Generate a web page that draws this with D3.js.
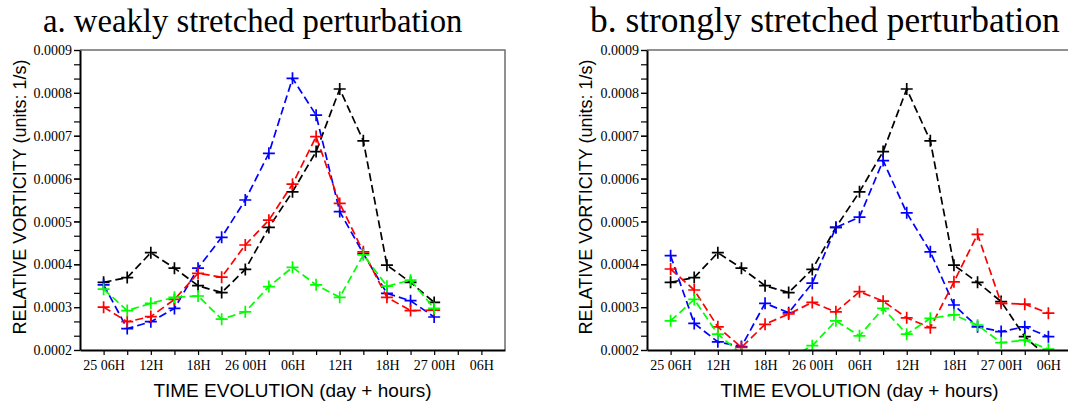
<!DOCTYPE html>
<html>
<head>
<meta charset="utf-8">
<script src="https://cdn.jsdelivr.net/npm/d3@7"></script>
<style>
  body { margin: 0; background: #fff; }
  svg text { fill: #000; }
  .serif { font-family: "Liberation Serif", "Times New Roman", serif; }
  .sans { font-family: "Liberation Sans", Arial, sans-serif; }
</style>
</head>
<body>
<div id="chart"></div>
<script>
// hours counted from 25 00H
const TIMES = [6, 9, 12, 15, 18, 21, 24, 27, 30, 33, 36, 39, 42, 45, 48, 51, 54];
const TICK_HOURS = [6, 12, 18, 24, 30, 36, 42, 48, 54];
const TICK_LABELS = ['25 06H', '12H', '18H', '26 00H', '06H', '12H', '18H', '27 00H', '06H'];
const Y_TICKS = [0.0002, 0.0003, 0.0004, 0.0005, 0.0006, 0.0007, 0.0008, 0.0009];

// a. weakly stretched (ends at 27 00H)
const weakBlack = [0.000358, 0.000369, 0.000427, 0.000391, 0.00035, 0.000334, 0.000388, 0.000486, 0.000569, 0.000663, 0.000809, 0.000688, 0.000398, 0.000358, 0.000311];
const weakBlue  = [0.000352, 0.000250, 0.000266, 0.000297, 0.000391, 0.000463, 0.00055, 0.000659, 0.000834, 0.000748, 0.000523, 0.000425, 0.000332, 0.000315, 0.000277];
const weakRed   = [0.0003, 0.000266, 0.000278, 0.000318, 0.000379, 0.00037, 0.000445, 0.000503, 0.000587, 0.000698, 0.000542, 0.000429, 0.000323, 0.000292, 0.000293];
const weakGreen = [0.000342, 0.000292, 0.000309, 0.000323, 0.000326, 0.000272, 0.000289, 0.000348, 0.000393, 0.000352, 0.000323, 0.000422, 0.000349, 0.000363, 0.000297];

// b. strongly stretched (ends at 27 06H)
const strongBlack = [0.000358, 0.000369, 0.000427, 0.000391, 0.00035, 0.000334, 0.000388, 0.000486, 0.000569, 0.000663, 0.000809, 0.000688, 0.000398, 0.000358, 0.000313, 0.000231, 0.000182];
const strongBlue  = [0.00042, 0.000262, 0.000219, 0.000208, 0.000309, 0.000287, 0.000356, 0.000486, 0.00051, 0.000642, 0.00052, 0.000429, 0.000305, 0.000254, 0.000243, 0.000254, 0.000231];
const strongRed   = [0.000389, 0.00034, 0.000254, 0.000206, 0.00026, 0.000284, 0.000311, 0.000289, 0.000336, 0.000314, 0.000275, 0.000252, 0.000359, 0.00047, 0.000309, 0.000307, 0.000286];
const strongGreen = [0.000268, 0.000318, 0.000237, 0.00019, 0.00017, 0.00018, 0.00021, 0.000268, 0.000233, 0.000297, 0.000237, 0.000274, 0.000282, 0.000258, 0.000217, 0.000223, 0.000202];

const panels = [
  { id: 'a', left: 80, title: 'a. weakly stretched perturbation', titleX: 43, titleSize: 32.7, labelX: 26,
    series: [[weakBlack, '#000'], [weakBlue, '#0000ff'], [weakRed, '#ff0000'], [weakGreen, '#00ff00']] },
  { id: 'b', left: 647, title: 'b. strongly stretched perturbation', titleX: 590, titleSize: 35.4, labelX: 592,
    series: [[strongBlack, '#000'], [strongBlue, '#0000ff'], [strongRed, '#ff0000'], [strongGreen, '#00ff00']] },
];

const W = 1068, H = 406;
const plotTop = 50, plotBottom = 350, plotW = 425;

const svg = d3.select('#chart').append('svg')
  .attr('width', W).attr('height', H);

panels.forEach((p) => {
  const x = d3.scaleLinear().domain([3, 57]).range([p.left, p.left + plotW]);
  const y = d3.scaleLinear().domain([0.0002, 0.0009]).range([plotBottom, plotTop]);
  const g = svg.append('g');

  g.append('clipPath').attr('id', 'clip-' + p.id)
    .append('rect').attr('x', p.left).attr('y', plotTop).attr('width', plotW).attr('height', plotBottom - plotTop);

  // frame, top and right
  g.append('path')
    .attr('d', `M${p.left},${plotTop}H${p.left + plotW}V${plotBottom}`)
    .attr('fill', 'none').attr('stroke', '#6e6e6e').attr('stroke-width', 1.5);

  const plot = g.append('g').attr('clip-path', `url(#clip-${p.id})`);
  const line = d3.line().x((d, i) => x(TIMES[i])).y((d) => y(d));

  p.series.forEach(([vals, color]) => {
    plot.append('path').datum(vals)
      .attr('d', line).attr('fill', 'none')
      .attr('stroke', color).attr('stroke-width', 1.7).attr('stroke-dasharray', '8,4');
    plot.selectAll(null).data(vals).join('path')
      .attr('d', 'M-6,0H6M0,-6V6')
      .attr('transform', (d, i) => `translate(${x(TIMES[i])},${y(d)})`)
      .attr('stroke', color).attr('stroke-width', 1.7);
  });

  // x axis: ticks every 3h, labels every 6h
  const xAxis = g.append('g').attr('transform', `translate(0,${plotBottom})`)
    .call(d3.axisBottom(x).tickValues(TIMES).tickSize(5).tickSizeOuter(0)
      .tickFormat((d) => { const k = TICK_HOURS.indexOf(d); return k < 0 ? '' : TICK_LABELS[k]; }));
  xAxis.select('.domain').attr('stroke', '#000').attr('stroke-width', 2);
  xAxis.selectAll('.tick line').attr('stroke', '#000').attr('stroke-width', 1.2);
  xAxis.selectAll('.tick text').attr('class', 'serif').attr('font-size', 14).attr('y', 10).attr('dy', '0.71em');

  // y axis with minor ticks in thirds
  const minor = d3.range(0, 22).map((k) => 0.0002 + k * 0.0001 / 3);
  const yMinor = g.append('g').attr('transform', `translate(${p.left},0)`)
    .call(d3.axisLeft(y).tickValues(minor).tickSize(6).tickFormat(''));
  yMinor.select('.domain').remove();
  yMinor.selectAll('.tick line').attr('stroke', '#000').attr('stroke-width', 1.2);

  const yAxis = g.append('g').attr('transform', `translate(${p.left},0)`)
    .call(d3.axisLeft(y).tickValues(Y_TICKS).tickSize(6).tickSizeOuter(0).tickFormat(d3.format('.4f')));
  yAxis.select('.domain').attr('stroke', '#000').attr('stroke-width', 2);
  yAxis.selectAll('.tick line').attr('stroke', '#000').attr('stroke-width', 1.2);
  yAxis.selectAll('.tick text').attr('class', 'serif').attr('font-size', 14).attr('x', -8).attr('dy', '0.33em');

  // titles and axis labels
  g.append('text').attr('class', 'serif').attr('x', p.titleX).attr('y', 32)
    .attr('font-size', p.titleSize).text(p.title);

  g.append('text').attr('class', 'sans').attr('font-size', 19)
    .attr('text-anchor', 'middle')
    .attr('x', p.left + plotW / 2).attr('y', 397)
    .text('TIME EVOLUTION (day + hours)');

  g.append('text').attr('class', 'sans').attr('font-size', 18)
    .attr('text-anchor', 'middle')
    .attr('transform', `translate(${p.labelX},197) rotate(-90)`)
    .text('RELATIVE VORTICITY (units: 1/s)');
});
</script>
</body>
</html>
